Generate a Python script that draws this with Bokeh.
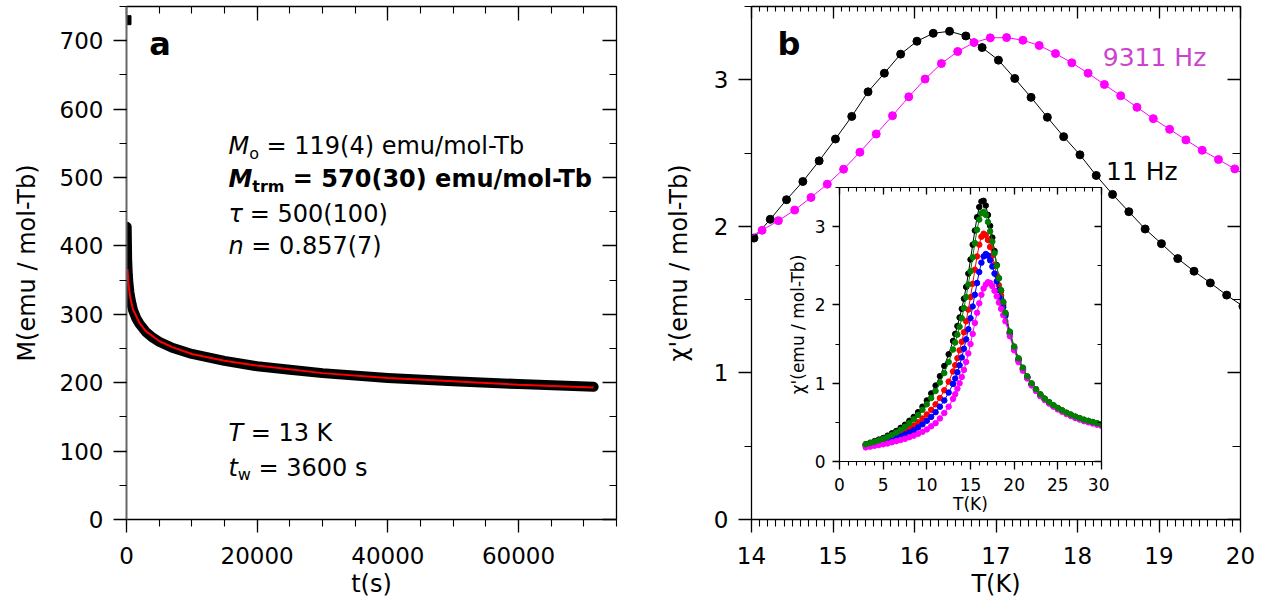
from bokeh.plotting import figure
from bokeh.models import LinearAxis, SingleIntervalTicker, Range1d, CustomLabelingPolicy
from bokeh.layouts import row
from bokeh.embed import file_html
from bokeh.resources import INLINE
from bokeh.core.properties import value

FONT = "DejaVu Sans"

# ---------------- data: panel a (thermoremanent magnetisation decay) -------------
t_initial = [0]
M_initial = [730]
t_data = [30, 100, 200, 300, 450, 600, 800, 1000, 1500, 2000, 3000, 4000, 5000,
          7000, 10000, 15000, 20000, 25000, 30000, 40000, 50000, 60000, 71500]
M_data = [428, 380, 358, 345, 332, 323, 314, 306, 294, 286, 274, 266, 260,
          251, 242, 232, 224, 219, 214, 207, 202, 198, 194]
t_fit = [150, 300, 600, 1000, 2000, 3000, 5000, 7000, 10000, 15000, 20000,
         30000, 40000, 50000, 60000, 71500]
M_fit = [366, 344, 323, 307, 287, 275, 261, 252, 242, 232, 225,
         214, 207, 202, 197, 193]

# ---------------- data: panel b (main) --------------------------------------------
T_11 = [14.03, 14.23, 14.43, 14.63, 14.83, 15.03, 15.23, 15.43, 15.63, 15.83,
        16.03, 16.23, 16.43, 16.63, 16.83, 17.03, 17.23, 17.43, 17.63, 17.83,
        18.03, 18.23, 18.43, 18.63, 18.83, 19.03, 19.23, 19.43, 19.63, 19.83, 20.03]
chi_11 = [1.920, 2.048, 2.182, 2.306, 2.447, 2.596, 2.750, 2.918, 3.045, 3.175,
          3.263, 3.317, 3.331, 3.299, 3.220, 3.134, 3.009, 2.880, 2.744, 2.612,
          2.488, 2.347, 2.218, 2.100, 1.982, 1.882, 1.780, 1.694, 1.614, 1.531, 1.455]
T_9311 = [13.93, 14.13, 14.33, 14.53, 14.73, 14.93, 15.13, 15.33, 15.53, 15.73,
          15.93, 16.13, 16.33, 16.53, 16.73, 16.93, 17.13, 17.33, 17.53, 17.73,
          17.93, 18.13, 18.33, 18.53, 18.73, 18.93, 19.13, 19.33, 19.53, 19.73,
          19.93, 20.13]
chi_9311 = [1.915, 1.973, 2.039, 2.111, 2.197, 2.288, 2.390, 2.506, 2.630, 2.755,
            2.884, 3.005, 3.111, 3.193, 3.254, 3.286, 3.288, 3.270, 3.234, 3.179,
            3.116, 3.045, 2.968, 2.891, 2.812, 2.735, 2.662, 2.590, 2.519, 2.456,
            2.392, 2.330]

# ---------------- data: inset (five frequencies) ----------------------------------
T_in = [3.0, 3.5, 4.0, 4.5, 5.0, 5.5, 6.0, 6.5, 7.0, 7.5, 8.0, 8.5, 9.0, 9.5, 10.0,
        10.5, 11.0, 11.5, 12.0, 12.5, 13.0,
        13.25, 13.5, 13.75, 14.0, 14.25, 14.5, 14.75, 15.0, 15.25, 15.5, 15.75, 16.0,
        16.25, 16.5, 16.75, 17.0, 17.25, 17.5, 17.75, 18.0, 18.25, 18.5, 18.75, 19.0,
        19.5, 20.0, 20.5, 21.0, 21.5, 22.0, 22.5, 23.0, 23.5, 24.0, 24.5, 25.0, 25.5,
        26.0, 26.5, 27.0, 27.5, 28.0, 28.5, 29.0, 29.5, 30.0]
chi_in_black = [0.22, 0.24, 0.26, 0.28, 0.30, 0.33, 0.36, 0.39, 0.43, 0.47, 0.52, 0.57,
                0.63, 0.70, 0.78, 0.87, 0.97, 1.09, 1.22, 1.37, 1.54,
                1.63, 1.73, 1.84, 1.95, 2.08, 2.23, 2.40, 2.58, 2.77, 2.95, 3.12, 3.25,
                3.32, 3.33, 3.27, 3.15, 3.01, 2.86, 2.69, 2.51, 2.34, 2.18, 2.03, 1.89,
                1.65, 1.46, 1.31, 1.19, 1.08, 0.99, 0.92, 0.855, 0.80, 0.755, 0.715, 0.68,
                0.65, 0.62, 0.595, 0.57, 0.55, 0.53, 0.515, 0.50, 0.485, 0.47]
chi_in_red = [0.21, 0.225, 0.24, 0.255, 0.27, 0.29, 0.31, 0.335, 0.36, 0.39, 0.425, 0.46,
              0.50, 0.55, 0.60, 0.66, 0.73, 0.81, 0.91, 1.02, 1.15,
              1.23, 1.32, 1.42, 1.53, 1.65, 1.79, 1.94, 2.10, 2.27, 2.45, 2.62, 2.77,
              2.87, 2.91, 2.89, 2.83, 2.74, 2.63, 2.51, 2.38, 2.25, 2.12, 2.00, 1.88,
              1.64, 1.45, 1.30, 1.18, 1.075, 0.985, 0.915, 0.85, 0.80, 0.755, 0.715, 0.68,
              0.65, 0.62, 0.595, 0.57, 0.55, 0.53, 0.515, 0.50, 0.485, 0.47]
chi_in_blue = [0.20, 0.21, 0.22, 0.235, 0.25, 0.265, 0.28, 0.30, 0.32, 0.345, 0.37, 0.40,
               0.435, 0.475, 0.52, 0.57, 0.63, 0.70, 0.78, 0.88, 0.99,
               1.06, 1.14, 1.23, 1.33, 1.44, 1.56, 1.69, 1.83, 1.98, 2.13, 2.28, 2.42,
               2.54, 2.62, 2.65, 2.63, 2.57, 2.49, 2.40, 2.30, 2.19, 2.08, 1.97, 1.86,
               1.63, 1.44, 1.29, 1.175, 1.07, 0.98, 0.91, 0.845, 0.795, 0.75, 0.71, 0.675,
               0.645, 0.615, 0.59, 0.565, 0.545, 0.525, 0.51, 0.495, 0.48, 0.465]
chi_in_magenta = [0.18, 0.19, 0.20, 0.21, 0.22, 0.23, 0.245, 0.26, 0.275, 0.29, 0.31, 0.33,
                  0.355, 0.38, 0.41, 0.45, 0.49, 0.55, 0.62, 0.70, 0.80,
                  0.86, 0.93, 1.00, 1.08, 1.17, 1.27, 1.38, 1.50, 1.63, 1.77, 1.90, 2.02,
                  2.13, 2.21, 2.26, 2.29, 2.28, 2.24, 2.18, 2.11, 2.03, 1.95, 1.87, 1.79,
                  1.60, 1.42, 1.27, 1.16, 1.06, 0.97, 0.90, 0.835, 0.785, 0.74, 0.70, 0.665,
                  0.635, 0.605, 0.58, 0.555, 0.535, 0.515, 0.50, 0.485, 0.47, 0.455]
chi_in_green = [0.22, 0.235, 0.25, 0.27, 0.29, 0.315, 0.34, 0.37, 0.405, 0.445, 0.49, 0.54,
                0.595, 0.66, 0.73, 0.81, 0.90, 1.01, 1.13, 1.27, 1.43,
                1.52, 1.62, 1.72, 1.83, 1.96, 2.10, 2.26, 2.43, 2.61, 2.79, 2.96, 3.09,
                3.17, 3.19, 3.15, 3.06, 2.94, 2.81, 2.66, 2.50, 2.34, 2.19, 2.04, 1.90,
                1.66, 1.47, 1.32, 1.20, 1.09, 1.00, 0.925, 0.86, 0.805, 0.76, 0.72, 0.685,
                0.655, 0.625, 0.60, 0.575, 0.555, 0.535, 0.52, 0.505, 0.49, 0.475]

# ---------------- helpers ----------------------------------------------------------
DV = {' ': 0.318, '=': 0.838, '(': 0.390, ')': 0.390, '.': 0.318, '/': 0.337, '-': 0.361,
      'e': 0.615, 'm': 0.974, 'u': 0.634, 'o': 0.612, 'l': 0.278, 'T': 0.611, 'b': 0.635,
      'M': 0.863, 'n': 0.634, 't': 0.392, 'w': 0.818, 's': 0.521, 'K': 0.656, 'r': 0.411,
      'τ': 0.568}
DVB = {' ': 0.348, '=': 0.838, '(': 0.457, ')': 0.457, '/': 0.365, '-': 0.415, 'e': 0.678,
       'm': 1.042, 'u': 0.712, 'o': 0.687, 'l': 0.343, 'T': 0.682, 'b': 0.716, 'M': 0.995,
       't': 0.478, 'r': 0.493}
LIFT = 0.37   # baseline correction (fraction of the font size)


def no_labels():
    return CustomLabelingPolicy(code="""
        for (const i of indices) { indices.unset(i) }
    """)


def text_width(txt, size, bold):
    table = DVB if bold else DV
    dig = 0.696 if bold else 0.636
    return sum((dig if c.isdigit() else table.get(c, 0.6)) for c in txt) * size


def simple_text(p, x, y, txt, size, style="normal", color="black"):
    p.text(x=[x], y=[y], text=[txt], y_offset=-LIFT * size,
           text_font=value(FONT), text_font_size=f"{size}px",
           text_font_style=style, text_baseline="alphabetic",
           text_align="left", text_color=color)


def rich_text(p, x, y, pieces, color="black"):
    dx = 0.0
    base = -LIFT * pieces[0][1]
    for txt, size, style, dy in pieces:
        bold = "bold" in style
        lead = len(txt) - len(txt.lstrip(" "))
        dx += text_width(" " * lead, size, bold)
        shown = txt.lstrip(" ")
        p.text(x=[x], y=[y], text=[shown], x_offset=dx, y_offset=base + dy,
               text_font=value(FONT), text_font_size=f"{size}px",
               text_font_style=style, text_baseline="alphabetic",
               text_align="left", text_color=color)
        dx += text_width(shown, size, bold)


def style_axis(ax, ticker, maj_in, maj_out, min_in, min_out, lab_size, standoff,
               show=True, line_color="black", line_width=1.3):
    ax.ticker = ticker
    ax.axis_line_color = line_color
    ax.axis_line_width = line_width
    ax.major_tick_line_color = "black"
    ax.major_tick_line_width = 1.3
    ax.minor_tick_line_color = "black"
    ax.minor_tick_line_width = 1.1
    ax.major_tick_in = maj_in
    ax.major_tick_out = maj_out
    ax.minor_tick_in = min_in
    ax.minor_tick_out = min_out
    ax.major_label_text_font = FONT
    ax.major_label_text_color = "black"
    ax.major_label_text_font_size = f"{lab_size}px"
    ax.major_label_standoff = standoff
    ax.axis_label_text_font = FONT
    ax.axis_label_text_font_style = "normal"
    ax.axis_label_text_color = "black"
    if not show:
        ax.major_label_policy = no_labels()
        ax.major_label_text_font_size = "0px"
        ax.major_label_standoff = 0


def make_fig(w, h, xr, yr, bl, br, bt, bb):
    p = figure(width=w, height=h, x_range=Range1d(*xr), y_range=Range1d(*yr),
               output_backend="svg", toolbar_location=None,
               min_border_left=bl, min_border_right=br, min_border_top=bt,
               min_border_bottom=bb)
    p.grid.visible = False
    p.outline_line_color = None
    p.background_fill_color = "white"
    p.border_fill_color = "white"
    return p


# ---------------- panel a ----------------------------------------------------------
pa = make_fig(651, 600, (0, 75000), (0, 750), 126, 35, 6, 80)
tx = SingleIntervalTicker(interval=20000, num_minor_ticks=4)
ty = SingleIntervalTicker(interval=100, num_minor_ticks=2)
style_axis(pa.xaxis[0], tx, 0, 13, 0, 7, 23, 14)
style_axis(pa.yaxis[0], ty, 0, 13, 0, 7, 23, 10, line_color="#666666", line_width=2)
pa.xaxis[0].axis_label = "t(s)"
pa.xaxis[0].axis_label_text_font_size = "24px"
pa.xaxis[0].axis_label_standoff = 3
pa.yaxis[0].axis_label = "M(emu / mol-Tb)"
pa.yaxis[0].axis_label_text_font_size = "24px"
pa.yaxis[0].axis_label_standoff = 16
ra = LinearAxis()
style_axis(ra, ty, 14, 0, 7, 0, 23, 0, show=False)
pa.add_layout(ra, "right")
ta = LinearAxis()
style_axis(ta, tx, 14, 0, 7, 0, 23, 0, show=False)
pa.add_layout(ta, "above")

pa.line(t_data, M_data, line_color="black", line_width=10, line_cap="round",
        line_join="round")
pa.line(t_fit, M_fit, line_color="#FF0000", line_width=2)
pa.scatter(t_initial, M_initial, marker="square", size=9, color="black")

simple_text(pa, 3500, 678, "a", 32, "bold")
AX = 15600
rich_text(pa, AX, 532.6, [("M", 24, "italic", 0), ("o", 16, "normal", 7),
                          (" = 119(4) emu/mol-Tb", 24, "normal", 0)])
rich_text(pa, AX, 484.4, [("M", 24, "bold italic", 0), ("trm", 16, "bold", 7),
                          (" = 570(30) emu/mol-Tb", 24, "bold", 0)])
rich_text(pa, AX, 433.4, [("τ", 24, "italic", 0), (" = 500(100)", 24, "normal", 0)])
rich_text(pa, AX, 386.7, [("n", 24, "italic", 0), (" = 0.857(7)", 24, "normal", 0)])
rich_text(pa, AX, 113.8, [("T", 24, "italic", 0), (" = 13 K", 24, "normal", 0)])
rich_text(pa, AX, 62.7, [("t", 24, "italic", 0), ("w", 16, "normal", 7),
                         (" = 3600 s", 24, "normal", 0)])

# ---------------- panel b ----------------------------------------------------------
pb = make_fig(616, 600, (14, 20), (0, 3.5), 100, 27, 6, 80)
bx = SingleIntervalTicker(interval=1, num_minor_ticks=10)
by = SingleIntervalTicker(interval=1, num_minor_ticks=2)
style_axis(pb.xaxis[0], bx, 0, 13, 0, 7, 23, 14)
style_axis(pb.yaxis[0], by, 0, 13, 0, 7, 23, 10)
pb.xaxis[0].axis_label = "T(K)"
pb.xaxis[0].axis_label_text_font_size = "24px"
pb.xaxis[0].axis_label_standoff = 3
pb.yaxis[0].axis_label = "χ'(emu / mol-Tb)"
pb.yaxis[0].axis_label_text_font_size = "24px"
pb.yaxis[0].axis_label_standoff = 18
rb = LinearAxis()
style_axis(rb, by, 13, 0, 8, 0, 23, 0, show=False)
pb.add_layout(rb, "right")
tb = LinearAxis()
style_axis(tb, bx, 12, 0, 5, 0, 23, 0, show=False)
pb.add_layout(tb, "above")

pb.line(T_11, chi_11, line_color="black", line_width=1)
pb.scatter(T_11, chi_11, marker="circle", size=8, color="black")
pb.line(T_9311, chi_9311, line_color="#FF00FF", line_width=1)
pb.scatter(T_9311, chi_9311, marker="circle", size=8, color="#FF00FF")

simple_text(pb, 14.32, 3.166, "b", 32, "bold")
simple_text(pb, 18.31, 3.086, "9311 Hz", 25, color="#CC44CC")
simple_text(pb, 18.35, 2.314, "11 Hz", 25)

# ---------------- inset ------------------------------------------------------------
pi = figure(width=339, height=341, x_range=Range1d(0, 30), y_range=Range1d(0, 3.5),
            output_backend="svg", toolbar_location=None,
            min_border_left=69, min_border_right=8, min_border_top=7,
            min_border_bottom=60)
pi.grid.visible = False
pi.outline_line_color = None
pi.background_fill_color = "white"
pi.border_fill_color = None
ix = SingleIntervalTicker(interval=5, num_minor_ticks=5)
iy = SingleIntervalTicker(interval=1, num_minor_ticks=2)
style_axis(pi.xaxis[0], ix, 0, 8, 0, 4, 17, 8, line_width=1.2)
style_axis(pi.yaxis[0], iy, 0, 7, 0, 4, 17, 7, line_width=1.2)
pi.xaxis[0].axis_label = "T(K)"
pi.xaxis[0].axis_label_text_font_size = "17px"
pi.xaxis[0].axis_label_standoff = 0
pi.yaxis[0].axis_label = "χ'(emu / mol-Tb)"
pi.yaxis[0].axis_label_text_font_size = "17px"
pi.yaxis[0].axis_label_standoff = 4
ri = LinearAxis()
style_axis(ri, iy, 7, 0, 4, 0, 17, 0, show=False, line_width=1.2)
pi.add_layout(ri, "right")
ti = LinearAxis()
style_axis(ti, ix, 7, 0, 4, 0, 17, 0, show=False, line_width=1.2)
pi.add_layout(ti, "above")

for ys, col in [(chi_in_black, "black"), (chi_in_red, "#FF0000"), (chi_in_blue, "#0000FF"),
                (chi_in_magenta, "#FF00FF"), (chi_in_green, "#008000")]:
    pi.line(T_in, ys, line_color=col, line_width=1)
    pi.scatter(T_in, ys, marker="circle", size=5.5, color=col)

pi.styles = {"position": "absolute", "left": "770px", "top": "180px"}

layout = row(pa, pb)
html = file_html([layout, pi], INLINE, title="TRM and ac susceptibility")
open("out.html", "w").write(html)
